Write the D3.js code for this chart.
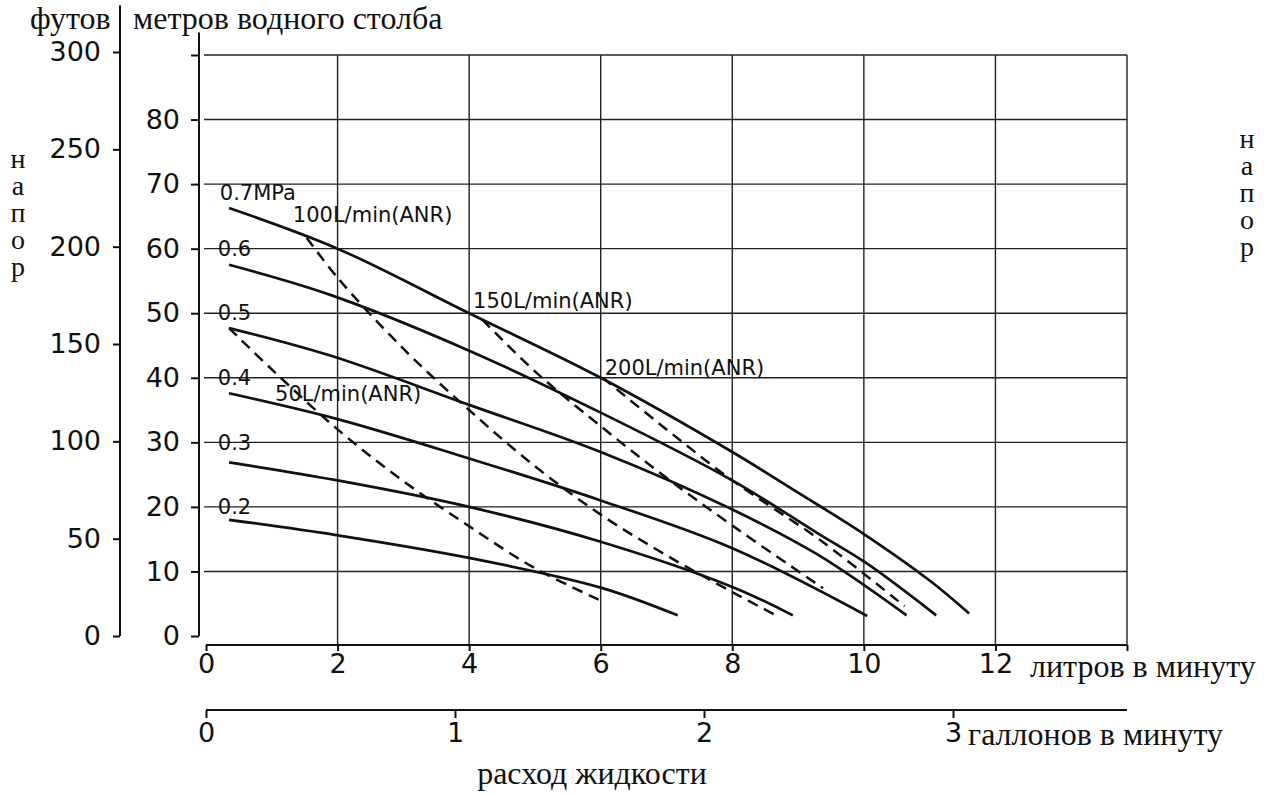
<!DOCTYPE html>
<html lang="ru">
<head>
<meta charset="UTF-8">
<title>Напор / расход жидкости</title>
<script src="https://cdn.jsdelivr.net/npm/d3@7"></script>
<style>
  body { margin: 0; background: #fff; }
  svg { display: block; }
  .serif { font-family: "Liberation Serif", "DejaVu Serif", serif; font-size: 32px; fill: #111; }
  .vert { font-family: "Liberation Serif", "DejaVu Serif", serif; font-size: 28px; fill: #111;
          writing-mode: vertical-rl; text-orientation: upright; letter-spacing: -4px; }
  .axis text { font-family: "DejaVu Sans", sans-serif; font-size: 27px; fill: #111; }
  .axis path, .axis line { stroke: #111; stroke-width: 2; }
  .grid line { stroke: #222; stroke-width: 1.4; }
  .curve { fill: none; stroke: #111; stroke-width: 2.7; }
  .flow { fill: none; stroke: #111; stroke-width: 2.5; stroke-dasharray: 11 7; }
  .lbl { font-family: "DejaVu Sans", sans-serif; font-size: 21px; fill: #111; }
</style>
</head>
<body>
<div id="chart"></div>
<script>
// ticks
const litreTicks = [0, 2, 4, 6, 8, 10, 12, 14];
const gallonTicks = [0, 1, 2, 3];
const feetTicks = [0, 50, 100, 150, 200, 250, 300];
const metreTicks = [0, 10, 20, 30, 40, 50, 60, 70, 80, 90];

// pressure curves: [L/min, m]
const pressureNames = ["0.7MPa", "0.6", "0.5", "0.4", "0.3", "0.2"];
const p07 = [[0.35, 66.3], [2, 60], [4, 50], [6, 40], [8, 28.5], [9, 22.2], [10, 15.8], [11, 8.6], [11.6, 3.5]];
const p06 = [[0.35, 57.5], [1.9, 52.8], [4, 44.2], [6, 34.6], [8, 24.1], [9.3, 15.9], [10.05, 11.2], [11.1, 3.2]];
const p05 = [[0.35, 47.7], [1.9, 43.4], [4, 35.8], [6, 28.5], [8, 19.6], [9.3, 12.6], [10.65, 3.2]];
const p04 = [[0.35, 37.6], [2, 33.6], [4, 27.5], [6, 21], [8, 13.6], [10.05, 3.1]];
const p03 = [[0.35, 26.9], [2, 24.1], [4, 20], [6, 14.6], [8, 7.6], [8.92, 3.2]];
const p02 = [[0.35, 18], [2, 15.6], [4, 12.1], [6, 7.5], [7.17, 3.2]];

// air consumption lines
const flowNames = ["50L/min(ANR)", "100L/min(ANR)", "150L/min(ANR)", "200L/min(ANR)"];
const f50 = [[0.35, 47.7], [1, 41.3], [2, 32], [3, 24], [4, 17], [5, 10.5], [6, 5.5]];
const f100 = [[1.53, 61.7], [2, 55.5], [3, 44.5], [4, 35], [5, 26.3], [6, 18.8], [7, 12.5], [8, 6.8], [8.72, 2.9]];
const f150 = [[4.2, 49], [5, 41], [6, 32.5], [7, 24.5], [8.1, 16.4], [9.38, 7.4]];
const f200 = [[6.03, 40], [7, 32], [8, 24.1], [9.33, 14.9], [10.62, 4.6]];

const W = 1264, H = 794;
const litreAxisY = 645, gallonAxisY = 710;

const svg = d3.select('#chart').append('svg')
  .attr('width', W).attr('height', H);

const x = d3.scaleLinear().domain([0, 14]).range([206, 1127]);
const xGal = d3.scaleLinear().domain([0, 14 / 3.785]).range([206, 1127]);
const yM = d3.scaleLinear().domain([0, 90]).range([636, 55]);
const yFt = d3.scaleLinear().domain([0, 300]).range([636, 52]);

// grid
const grid = svg.append('g').attr('class', 'grid');
grid.selectAll('.h').data(metreTicks.slice(1)).enter().append('line')
  .attr('x1', x(0) - 2).attr('x2', x(14))
  .attr('y1', d => yM(d)).attr('y2', d => yM(d));
grid.selectAll('.v').data(litreTicks.slice(1)).enter().append('line')
  .attr('x1', d => x(d)).attr('x2', d => x(d))
  .attr('y1', yM(90)).attr('y2', litreAxisY);

// feet axis
const ftAxis = svg.append('g').attr('class', 'axis')
  .attr('transform', 'translate(120,0)')
  .call(d3.axisLeft(yFt).tickValues(feetTicks).tickSize(7).tickSizeOuter(0).tickPadding(12));
ftAxis.select('.domain').remove();
ftAxis.append('line').attr('x1', 0).attr('x2', 0).attr('y1', yFt(0)).attr('y2', yFt(324));

// metres axis
const mAxis = svg.append('g').attr('class', 'axis')
  .attr('transform', 'translate(199,0)')
  .call(d3.axisLeft(yM).tickValues(metreTicks).tickSize(8).tickSizeOuter(0).tickPadding(11)
    .tickFormat(d => d <= 80 ? d : ''));
mAxis.select('.domain').remove();
mAxis.append('line').attr('x1', 0).attr('x2', 0).attr('y1', yM(0)).attr('y2', yM(93.5));

// litres axis
const lAxis = svg.append('g').attr('class', 'axis')
  .attr('transform', `translate(0,${litreAxisY})`)
  .call(d3.axisBottom(x).tickValues(litreTicks).tickSize(6).tickSizeOuter(0).tickPadding(3)
    .tickFormat(d => d <= 12 ? d : ''));
lAxis.select('.domain').attr('d', `M${x(0)},0H${x(14)}`);

// gallons axis
const gAxis = svg.append('g').attr('class', 'axis')
  .attr('transform', `translate(0,${gallonAxisY})`)
  .call(d3.axisBottom(xGal).tickValues(gallonTicks).tickSize(8).tickSizeOuter(0).tickPadding(5)
    .tickFormat(d3.format('d')));
gAxis.select('.domain').attr('d', `M${x(0)},0H${x(14)}`);

// curves
const line = d3.line().x(d => x(d[0])).y(d => yM(d[1])).curve(d3.curveCatmullRom.alpha(0.5));
const pressures = [p07, p06, p05, p04, p03, p02];
const flows = [f50, f100, f150, f200];

svg.append('g').selectAll('path').data(flows).enter().append('path')
  .attr('class', 'flow').attr('d', line);
svg.append('g').selectAll('path').data(pressures).enter().append('path')
  .attr('class', 'curve').attr('d', line);

// curve labels (anchor in L/min, m)
const pLabelAt = [[0.21, 67.5], [0.18, 58.8], [0.18, 48.9], [0.18, 38.9], [0.18, 28.8], [0.18, 18.9]];
svg.append('g').selectAll('text').data(pressureNames).enter().append('text')
  .attr('class', 'lbl')
  .attr('x', (d, i) => x(pLabelAt[i][0]))
  .attr('y', (d, i) => yM(pLabelAt[i][1]))
  .text(d => d);

const fLabelAt = [[1.05, 36.4], [1.32, 64.2], [4.06, 50.8], [6.06, 40.4]];
svg.append('g').selectAll('text').data(flowNames).enter().append('text')
  .attr('class', 'lbl')
  .attr('x', (d, i) => x(fLabelAt[i][0]))
  .attr('y', (d, i) => yM(fLabelAt[i][1]))
  .text(d => d);

// titles
svg.append('text').attr('class', 'serif').attr('x', 30).attr('y', 29).text('футов');
svg.append('text').attr('class', 'serif').attr('x', 133).attr('y', 29).text('метров водного столба');
svg.append('text').attr('class', 'serif').attr('x', 1030).attr('y', 677).text('литров в минуту');
svg.append('text').attr('class', 'serif').attr('x', 968).attr('y', 745).text('галлонов в минуту');
svg.append('text').attr('class', 'serif').attr('x', 592).attr('y', 784)
  .attr('text-anchor', 'middle').text('расход жидкости');

// vertical "напор" on both sides
svg.append('text').attr('class', 'vert').attr('x', 18).attr('y', 143).text('напор');
svg.append('text').attr('class', 'vert').attr('x', 1247).attr('y', 123).text('напор');
</script>
</body>
</html>
